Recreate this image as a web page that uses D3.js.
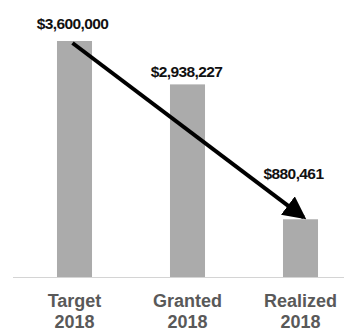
<!DOCTYPE html>
<html>
<head>
<meta charset="utf-8">
<script src="https://cdn.jsdelivr.net/npm/d3@7"></script>
<style>
  body { margin: 0; background: #fff; }
</style>
</head>
<body>
<div id="chart"></div>
<script>
// chart data
const categories = ["Target 2018", "Granted 2018", "Realized 2018"];
const values = [3600000, 2938227, 880461];
const valueLabels = ["$3,600,000", "$2,938,227", "$880,461"];

const width = 344, height = 331;

const svg = d3.select("#chart")
    .append("svg")
    .attr("width", width)
    .attr("height", height);

// scales
const xScale = d3.scaleBand()
    .domain(categories)
    .range([18, 357])
    .paddingInner(0.69)
    .paddingOuter(0.345);

const yScale = d3.scaleLinear()
    .domain([0, 3600000])
    .range([277, 41]);

// bars
svg.selectAll("rect.bar")
    .data(values)
    .enter()
    .append("rect")
    .attr("class", "bar")
    .attr("x", (d, i) => xScale(categories[i]))
    .attr("y", d => yScale(d))
    .attr("width", xScale.bandwidth())
    .attr("height", d => yScale(0) - yScale(d))
    .style("fill", "#ababab");

// baseline
svg.append("line")
    .attr("x1", 13)
    .attr("x2", width)
    .attr("y1", yScale(0) + 0.5)
    .attr("y2", yScale(0) + 0.5)
    .style("stroke", "#d4d4d4")
    .style("stroke-width", 1);

// value labels
const labelOffsets = [-2, -1, -7];
svg.selectAll("text.value")
    .data(values)
    .enter()
    .append("text")
    .attr("class", "value")
    .attr("x", (d, i) => xScale(categories[i]) + xScale.bandwidth() / 2 + labelOffsets[i])
    .attr("y", (d, i) => i === 0 ? 29 : yScale(d) - 7 - (i === 2 ? 33 : 0))
    .style("text-anchor", "middle")
    .style("font-family", "'Liberation Sans', Arial, sans-serif")
    .style("font-weight", "bold")
    .style("font-size", "15.5px")
    .style("letter-spacing", "-0.6px")
    .style("fill", "#111")
    .text((d, i) => valueLabels[i]);

// category labels (two lines)
categories.forEach(c => {
    const parts = c.split(" ");
    const t = svg.append("text")
        .attr("x", xScale(c) + xScale.bandwidth() / 2)
        .attr("y", 307)
        .style("text-anchor", "middle")
        .style("font-family", "'Liberation Sans', Arial, sans-serif")
        .style("font-weight", "bold")
        .style("font-size", "18px")
        .style("fill", "#595959");
    t.selectAll("tspan")
        .data(parts)
        .enter()
        .append("tspan")
        .attr("x", xScale(c) + xScale.bandwidth() / 2)
        .attr("dy", (d, i) => i === 0 ? 0 : 21)
        .text(d => d);
});

// arrow
const defs = svg.append("defs");
defs.append("marker")
    .attr("id", "arrowhead")
    .attr("markerUnits", "userSpaceOnUse")
    .attr("viewBox", "0 0 20 20")
    .attr("refX", 17)
    .attr("refY", 10)
    .attr("markerWidth", 23)
    .attr("markerHeight", 23)
    .attr("orient", "auto")
    .append("path")
    .attr("d", "M0,0 L20,10 L0,20 Z")
    .style("fill", "#000");

const x0 = xScale(categories[0]) + xScale.bandwidth() / 2 - 2;
const y0 = yScale(values[0]) + 2;
const x1 = xScale(categories[2]) + xScale.bandwidth() / 2 + 3;
const y1 = yScale(values[2]) - 2;

svg.append("line")
    .attr("x1", x0)
    .attr("y1", y0)
    .attr("x2", x1)
    .attr("y2", y1)
    .style("stroke", "#000")
    .style("stroke-width", 4)
    .attr("marker-end", "url(#arrowhead)");
</script>
</body>
</html>
